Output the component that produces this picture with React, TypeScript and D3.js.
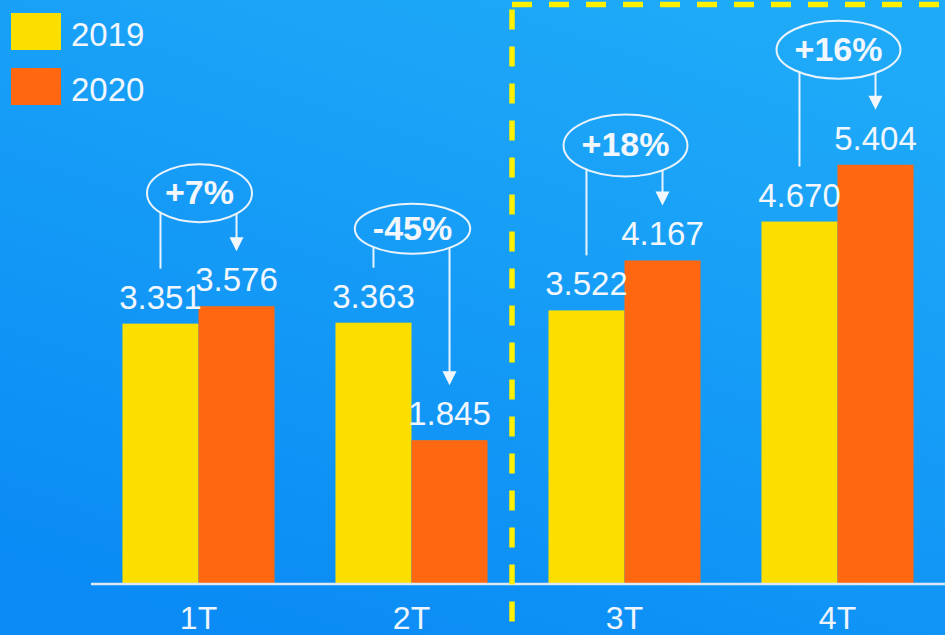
import React, { useEffect, useRef } from "react";
import * as d3 from "d3";

const categories = ["1T", "2T", "3T", "4T"];
const seriesNames = ["2019", "2020"];
const values2019 = [3.351, 3.363, 3.522, 4.67];
const values2020 = [3.576, 1.845, 4.167, 5.404];
const valueLabels2019 = ["3.351", "3.363", "3.522", "4.670"];
const valueLabels2020 = ["3.576", "1.845", "4.167", "5.404"];
const changeLabels = ["+7%", "-45%", "+18%", "+16%"];

const W = 945;
const H = 635;
const COLORS = ["#FBDF00", "#FF6810"];
// vertical lift of each callout ellipse above the taller bar (layout only)
const calloutLift = [113, 94, 115, 115];
const calloutRy = [29, 25, 31, 29];

export default function App() {
  const ref = useRef<SVGSVGElement>(null);

  useEffect(() => {
    const svg = d3.select(ref.current);
    svg.selectAll("*").remove();
    const font = "'Liberation Sans', Arial, sans-serif";

    const defs = svg.append("defs");
    const g = defs
      .append("linearGradient")
      .attr("id", "bg")
      .attr("x1", "0.75")
      .attr("y1", "0")
      .attr("x2", "0.25")
      .attr("y2", "1");
    g.append("stop").attr("offset", "0").attr("stop-color", "#1FAAF8");
    g.append("stop").attr("offset", "1").attr("stop-color", "#0A8BF5");
    svg.append("rect").attr("width", W).attr("height", H).attr("fill", "url(#bg)");

    const x0 = d3
      .scaleBand<string>()
      .domain(categories)
      .range([92, 944])
      .paddingInner(0.286)
      .paddingOuter(0.143);
    const x1 = d3
      .scaleBand<string>()
      .domain(seriesNames)
      .range([0, x0.bandwidth()]);
    const y = d3.scaleLinear().domain([0, 6]).range([583, 583 - 6 * 77.4]);

    const data = categories.map((c, i) => ({
      c,
      i,
      v: [values2019[i], values2020[i]],
      l: [valueLabels2019[i], valueLabels2020[i]],
    }));

    // bars
    data.forEach((d) => {
      seriesNames.forEach((s, k) => {
        svg
          .append("rect")
          .attr("x", (x0(d.c) as number) + (x1(s) as number))
          .attr("y", y(d.v[k]))
          .attr("width", x1.bandwidth())
          .attr("height", y(0) - y(d.v[k]))
          .attr("fill", COLORS[k]);
      });
    });

    // axis line
    svg
      .append("line")
      .attr("x1", 91)
      .attr("x2", W)
      .attr("y1", 584)
      .attr("y2", 584)
      .attr("stroke", "#DCE9F4")
      .attr("stroke-width", 2.5);

    // category labels
    svg
      .selectAll("text.cat")
      .data(categories)
      .enter()
      .append("text")
      .attr("class", "cat")
      .attr("x", (c) => (x0(c) as number) + x0.bandwidth() / 2)
      .attr("y", 629)
      .attr("text-anchor", "middle")
      .attr("font-family", font)
      .attr("font-size", 32)
      .attr("fill", "#EEF5FC")
      .text((c) => c);

    // value labels + callouts
    data.forEach((d) => {
      const cx = [0, 1].map(
        (k) => (x0(d.c) as number) + (x1(seriesNames[k]) as number) + x1.bandwidth() / 2
      );
      const base = [0, 1].map((k) => y(d.v[k]) - 15);
      [0, 1].forEach((k) => {
        svg
          .append("text")
          .attr("x", cx[k])
          .attr("y", base[k])
          .attr("text-anchor", "middle")
          .attr("font-family", font)
          .attr("font-size", 33)
          .attr("fill", "#F2F7FD")
          .text(d.l[k]);
      });
      const top = y(Math.max(d.v[0], d.v[1]));
      const ecx = (x0(d.c) as number) + x0.bandwidth() / 2 + 1;
      const ecy = top - calloutLift[d.i];
      const ry = calloutRy[d.i];
      const t = svg
        .append("text")
        .attr("x", ecx)
        .attr("y", ecy + 11)
        .attr("text-anchor", "middle")
        .attr("font-family", font)
        .attr("font-weight", "bold")
        .attr("font-size", 34)
        .attr("fill", "#F2F7FD")
        .text(changeLabels[d.i]);
      const tw = (t.node() as SVGTextElement).getComputedTextLength();
      const rx = tw / 2 + 18;
      svg
        .append("ellipse")
        .attr("cx", ecx)
        .attr("cy", ecy)
        .attr("rx", rx)
        .attr("ry", ry)
        .attr("fill", "none")
        .attr("stroke", "#EAF3FC")
        .attr("stroke-width", 2);
      const edgeY = (px: number) => {
        const dx = (px - ecx) / rx;
        return ecy + ry * Math.sqrt(Math.max(0, 1 - dx * dx));
      };
      // left line from ellipse to above 2019 label
      svg
        .append("line")
        .attr("x1", cx[0])
        .attr("x2", cx[0])
        .attr("y1", edgeY(cx[0]))
        .attr("y2", base[0] - 40)
        .attr("stroke", "#EAF3FC")
        .attr("stroke-width", 2);
      // right arrow down to 2020 label
      const tip = base[1] - 40;
      svg
        .append("line")
        .attr("x1", cx[1])
        .attr("x2", cx[1])
        .attr("y1", edgeY(cx[1]))
        .attr("y2", tip - 12)
        .attr("stroke", "#EAF3FC")
        .attr("stroke-width", 2);
      svg
        .append("path")
        .attr("d", `M${cx[1] - 7},${tip - 14} L${cx[1] + 7},${tip - 14} L${cx[1]},${tip} Z`)
        .attr("fill", "#F2F7FD");
    });

    // legend
    seriesNames.forEach((s, k) => {
      const ly = 13 + k * 55;
      svg
        .append("rect")
        .attr("x", 11)
        .attr("y", ly)
        .attr("width", 50)
        .attr("height", 37)
        .attr("fill", COLORS[k]);
      svg
        .append("text")
        .attr("x", 71)
        .attr("y", ly + 33)
        .attr("font-family", font)
        .attr("font-size", 33)
        .attr("fill", "#F2F7FD")
        .text(s);
    });

    // dashed highlight box
    svg
      .append("rect")
      .attr("x", 512)
      .attr("y", 4.5)
      .attr("width", 600)
      .attr("height", 800)
      .attr("fill", "none")
      .attr("stroke", "#FFF000")
      .attr("stroke-width", 5.5)
      .attr("stroke-dasharray", "20 17");
  }, []);

  return (
    <svg
      ref={ref}
      width={W}
      height={H}
      style={{ position: "absolute", left: 0, top: 0, display: "block" }}
    />
  );
}
